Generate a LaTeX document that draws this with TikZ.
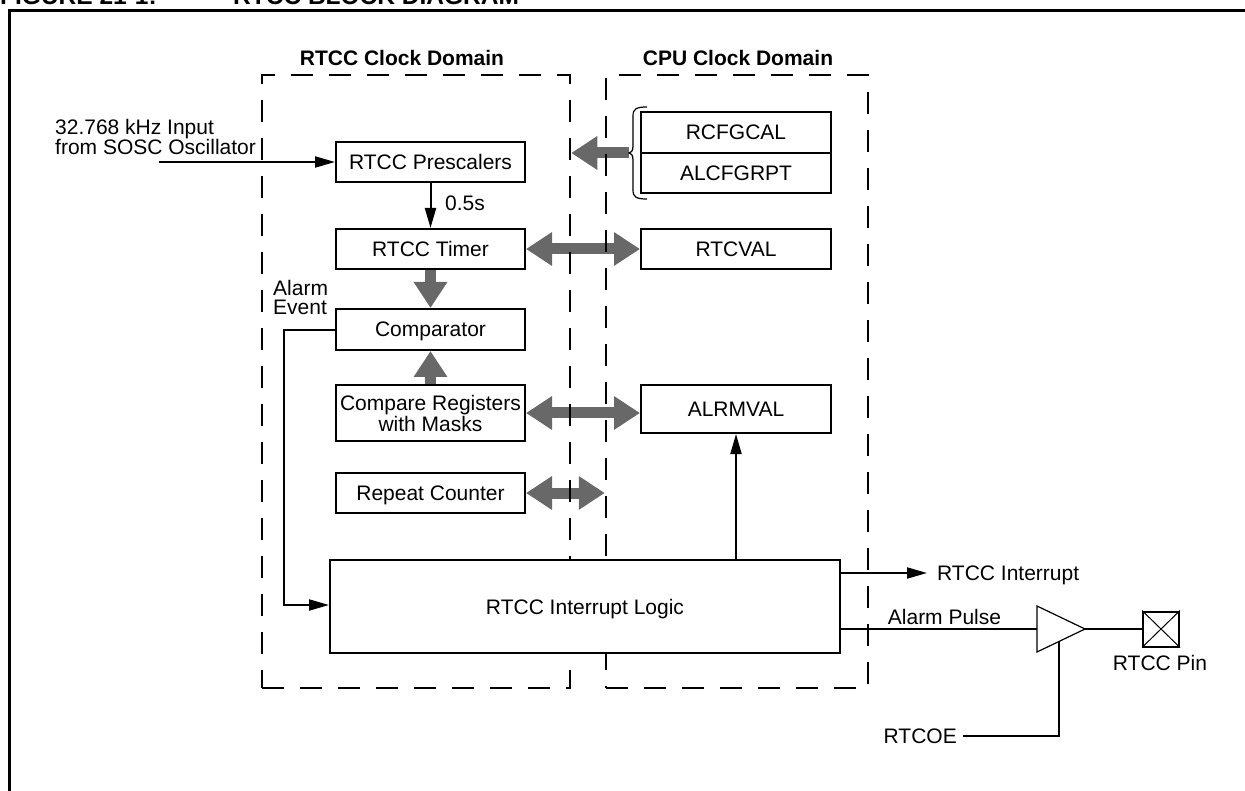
\documentclass[tikz,border=0pt]{standalone}
\usepackage{fontspec}
\setmainfont{Liberation Sans}
\usetikzlibrary{arrows.meta}
\pgfdeclarelayer{back}
\pgfdeclarelayer{mid}
\pgfsetlayers{back,mid,main}
\definecolor{arrgray}{RGB}{104,104,104}
\begin{document}
\begin{tikzpicture}[x=1pt,y=-1pt,
  txt/.style={font=\fontsize{21}{19.5}\selectfont, inner sep=0pt},
  ttl/.style={font=\bfseries\fontsize{21}{24}\selectfont, inner sep=0pt, anchor=base},
  hdr/.style={font=\bfseries\fontsize{24.5}{28}\selectfont, inner sep=0pt, anchor=base west},
  blkbase/.style={draw, line width=2pt, fill=white, minimum width=189pt, minimum height=40pt, inner sep=0pt, align=center, font=\fontsize{21}{21}\selectfont},
  blk/.style={blkbase, text height=15pt, text depth=0pt},
  dom/.style={draw, line width=2.5pt, dash pattern=on 22pt off 16pt, inner sep=0pt},
  wire/.style={line width=2pt},
  blkarrow/.style={-{Triangle[length=20pt,width=11pt]}},
  fat/.style={line width=11pt, draw=arrgray, -{Triangle[length=26pt,width=32pt]}},
  fatboth/.style={line width=11pt, draw=arrgray, {Triangle[length=26pt,width=32pt]}-{Triangle[length=26pt,width=32pt]}},
]
\useasboundingbox (0,0) rectangle (1245,791);

% header (cut off by the page edge)
\node[hdr] (fig) at (0,4.5) {FIGURE 21-1:};
\node[hdr] (figt) at (233,4.5) {RTCC BLOCK DIAGRAM};
\draw[line width=3pt] (9,800) -- (9,11) -- (1260,11);

% clock domains
\begin{pgfonlayer}{mid}
\node[dom, minimum width=308pt, minimum height=613pt] (rtccdom) at (416,381.5) {};
\node[dom, minimum width=262pt, minimum height=613pt] (cpudom) at (737,381.5) {};
\end{pgfonlayer}
\node[ttl] (rtcct) at (402,65.5) {RTCC Clock Domain};
\node[ttl] (cput) at (738,65.5) {CPU Clock Domain};

% blocks
\node[blk] (pre) at (430.5,162) {RTCC Prescalers};
\node[blk] (timer) at (430.5,249) {RTCC Timer};
\node[blk, minimum height=41pt] (comp) at (430.5,329.5) {Comparator};
\node[blkbase, minimum height=56pt] (cmpreg) at (430.5,413) {Compare Registers\\with Masks};
\node[blk] (rep) at (430.5,493) {Repeat Counter};
\node[blk, minimum width=190pt, minimum height=41pt] (rcfg) at (736,132.5) {RCFGCAL};
\node[blk, minimum width=190pt] (alcf) at (736,173) {ALCFGRPT};
\node[blk, minimum width=190pt] (rtcval) at (736,249) {RTCVAL};
\node[blk, minimum width=190pt, minimum height=48pt] (alrm) at (736,409) {ALRMVAL};
\node[blk, minimum width=510pt, minimum height=93pt] (intl) at (585,606.5) {RTCC Interrupt Logic};

% labels
\node[txt, anchor=north west, align=left] (inlbl) at (55,119) {32.768 kHz Input\\from SOSC Oscillator};
\node[txt, anchor=base west] (half) at (445,210.5) {0.5s};
\node[txt, anchor=north west, align=left] (alev) at (273,280) {Alarm\\Event};
\node[txt, anchor=base west] (intlbl) at (937,580.5) {RTCC Interrupt};
\node[txt, anchor=base] (aplbl) at (944.5,624.5) {Alarm Pulse};
\node[txt, anchor=base east] (oelbl) at (957,743.5) {RTCOE};
\node[txt, anchor=base] (pinlbl) at (1160,670.5) {RTCC Pin};

% brace
\coordinate (brtip) at (629,153);
\draw[line width=1.2pt] (647,107) .. controls (636,107) and (633,109) .. (633,116) -- (633,146)
  .. controls (633,151) and (631,153) .. (brtip)
  .. controls (631,153) and (633,155) .. (633,160) -- (633,190)
  .. controls (633,197) and (636,199) .. (647,199);

% gray bus arrows
\begin{pgfonlayer}{back}
\draw[fat] (brtip) -- (rtccdom.east |- brtip);
\draw[fatboth] (timer.east) -- (rtcval.west);
\draw[fat] (timer.south) -- (comp.north);
\draw[fat] (cmpreg.north) -- (comp.south);
\draw[fatboth] (cmpreg.east) -- (cmpreg.east -| alrm.west);
\draw[fatboth] (rep.east) -- (rep.east -| cpudom.west);
\end{pgfonlayer}

% signal wires
\coordinate (inst) at (159,162);
\draw[wire, blkarrow] (inst) -- (pre.west);
\draw[wire, blkarrow] (pre.south) -- (timer.north);
\coordinate (evc) at (284,330);
\coordinate (evd) at (284,605);
\draw[wire, blkarrow] (comp.west |- evc) -- (evc) -- (evd) -- (intl.west |- evd);
\draw[wire, blkarrow] (intl.north -| alrm.south) -- (alrm.south);
\coordinate (irqend) at (927,573);
\draw[wire, blkarrow] (intl.east |- irqend) -- (irqend);

% output buffer and pin
\coordinate (bufa) at (1037,606);
\coordinate (bufb) at (1037,652);
\coordinate (bufo) at (1085,629);
\coordinate (bufi) at (1037,629);
\draw[line width=1.2pt, fill=white] (bufa) -- (bufo) -- (bufb) -- cycle;
\draw[wire] (intl.east |- bufi) -- (bufi);
\node[draw, line width=2pt, minimum width=36pt, minimum height=35pt, inner sep=0pt] (pin) at (1161,629) {};
\draw[line width=1pt] (pin.north west) -- (pin.south east) (pin.north east) -- (pin.south west);
\draw[wire] (bufo) -- (pin.west);
\coordinate (oe) at (1059,641.5);
\coordinate (oec) at (1059,736);
\coordinate (oel) at (963,736);
\draw[wire] (oe) -- (oec) -- (oel);
\end{tikzpicture}
\end{document}
